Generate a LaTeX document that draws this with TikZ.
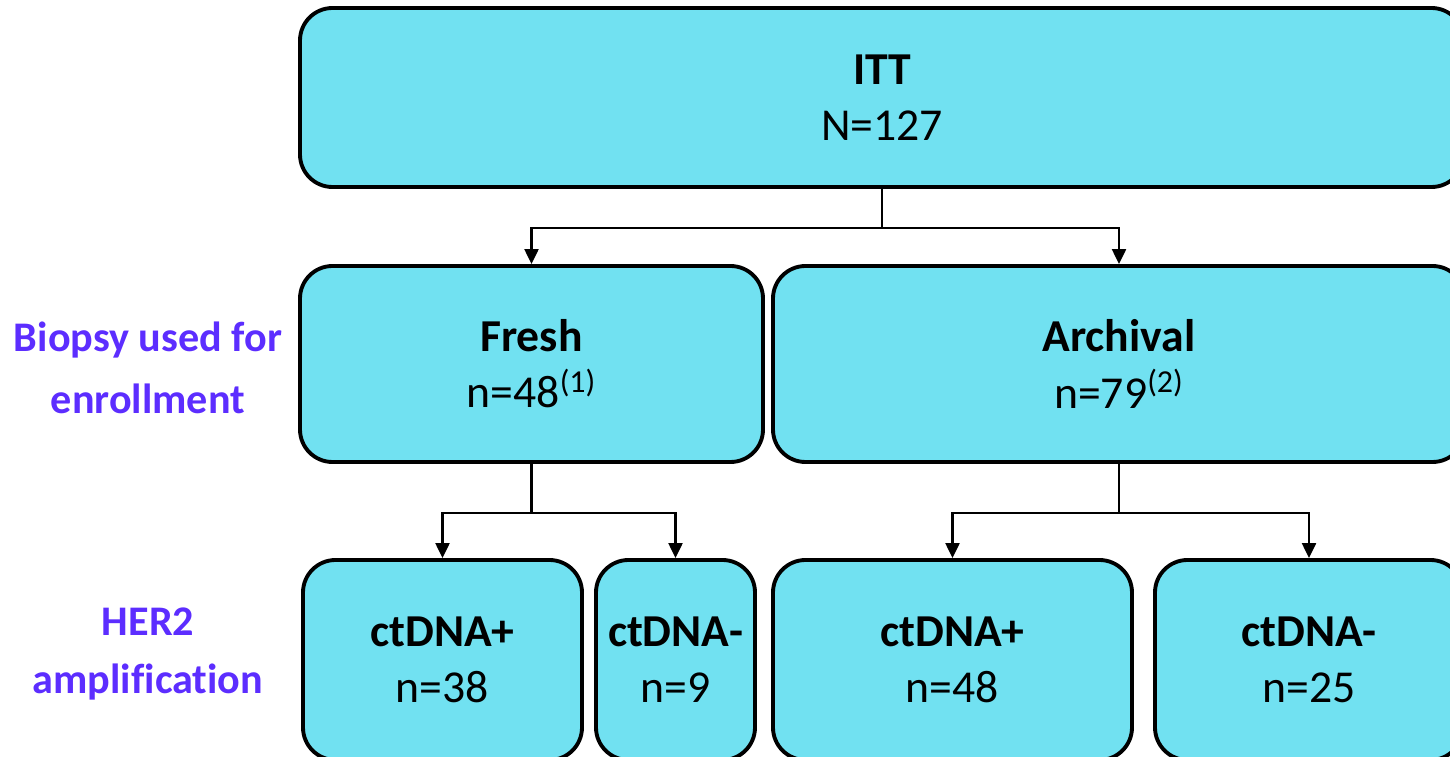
\documentclass[tikz,border=0pt]{standalone}
\usepackage{fontspec}
\setmainfont[Ligatures=CommonOff]{Carlito}
\usetikzlibrary{arrows.meta, positioning}
\definecolor{boxcyan}{RGB}{113,225,241}
\definecolor{labelpurple}{RGB}{92,45,255}

\tikzset{
	group/.style={draw, line width=2.2pt, fill=boxcyan, rounded corners=0.65cm,
		align=center, inner sep=0pt, font=\fontsize{26}{32}\selectfont},
	rowlabel/.style={text=labelpurple, align=center, font=\fontsize{24}{35}\selectfont\bfseries},
	link/.style={-{Triangle[length=0.3cm, width=0.28cm]}, line width=1.3pt}
}

\begin{document}
\begin{tikzpicture}
			\useasboundingbox (0,0) rectangle (29,15.12);
			
			% --- Define Coordinates ---
			\coordinate (Top) at (17.64,13.17);
			\coordinate (Fresh_c) at (10.63,7.84);
			\coordinate (Arch_c) at (22.38,7.84);
			\coordinate (FreshPos_c) at (8.85,1.92);
			\coordinate (FreshNeg_c) at (13.51,1.92);
			\coordinate (ArchPos_c) at (19.05,1.92);
			\coordinate (ArchNeg_c) at (26.18,1.92);
			
			% --- Boxes ---
			\node[group, minimum width=23.28cm, minimum height=3.58cm] (itt) at (Top) {\textbf{ITT}\\N=127};
			
			\node[group, minimum width=9.26cm, minimum height=3.92cm] (fresh) at (Fresh_c) {\textbf{Fresh}\\n=48\textsuperscript{(1)}};
			\node[group, minimum width=13.84cm, minimum height=3.92cm] (archival) at (Arch_c) {\textbf{Archival}\\n=79\textsuperscript{(2)}};
			
			\node[group, minimum width=5.58cm, minimum height=4.0cm] (freshpos) at (FreshPos_c) {\textbf{ctDNA+}\\n=38};
			\node[group, minimum width=3.18cm, minimum height=4.0cm] (freshneg) at (FreshNeg_c) {\textbf{ctDNA-}\\n=9};
			\node[group, minimum width=7.18cm, minimum height=4.0cm] (archpos) at (ArchPos_c) {\textbf{ctDNA+}\\n=48};
			\node[group, minimum width=6.16cm, minimum height=4.0cm] (archneg) at (ArchNeg_c) {\textbf{ctDNA-}\\n=25};
			
			% --- Row Labels ---
			\node[rowlabel] (biopsylabel) at (2.96,7.76) {Biopsy used for\\enrollment};
			\node[rowlabel, font=\fontsize{24}{33}\selectfont\bfseries] (herlabel) at (2.96,2.04) {HER2\\amplification};
			
			% --- Connectors ---
			\draw[link] (itt.south) -- ++(0,-0.78) -| (fresh.north);
			\draw[link] (itt.south) -- ++(0,-0.78) -| (archival.north);
			
			\draw[link] (fresh.south) -- ++(0,-0.98) -| (freshpos.north);
			\draw[link] (fresh.south) -- ++(0,-0.98) -| (freshneg.north);
			
			\draw[link] (archival.south) -- ++(0,-0.98) -| (archpos.north);
			\draw[link] (archival.south) -- ++(0,-0.98) -| (archneg.north);
			
\end{tikzpicture}
\end{document}
